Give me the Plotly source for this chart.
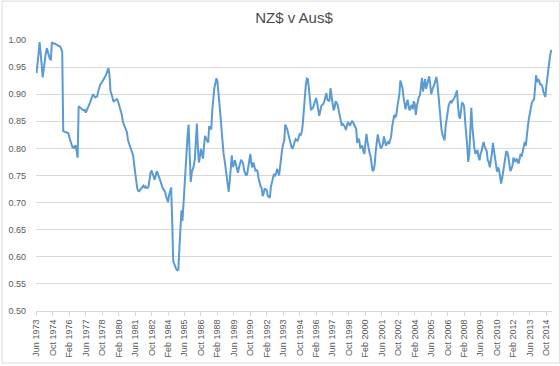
import plotly.graph_objects as go

# Monthly NZ$ per Aus$ readings, Jun 1973 onwards (one row per Jun-May year)
values = [
    0.939, 0.954, 0.975, 0.996, 0.980, 0.955, 0.931, 0.950, 0.968, 0.975, 0.985, 0.978,
    0.968, 0.965, 0.964, 0.996, 0.994, 0.994, 0.993, 0.992, 0.991, 0.991, 0.990, 0.988,
    0.984, 0.978, 0.832, 0.831, 0.830, 0.830, 0.829, 0.828, 0.820, 0.812, 0.808, 0.802,
    0.803, 0.800, 0.806, 0.795, 0.783, 0.878, 0.876, 0.873, 0.872, 0.871, 0.870, 0.871,
    0.866, 0.872, 0.878, 0.880, 0.884, 0.890, 0.895, 0.900, 0.897, 0.894, 0.895, 0.896,
    0.905, 0.915, 0.918, 0.920, 0.923, 0.926, 0.930, 0.933, 0.938, 0.942, 0.948, 0.935,
    0.905, 0.900, 0.892, 0.886, 0.888, 0.890, 0.891, 0.889, 0.882, 0.875, 0.869, 0.862,
    0.849, 0.845, 0.840, 0.835, 0.830, 0.815, 0.810, 0.803, 0.796, 0.792, 0.787, 0.770,
    0.753, 0.738, 0.726, 0.722, 0.721, 0.724, 0.727, 0.729, 0.731, 0.728, 0.730, 0.727,
    0.727, 0.730, 0.750, 0.756, 0.758, 0.754, 0.748, 0.742, 0.750, 0.758, 0.754, 0.748,
    0.744, 0.738, 0.733, 0.726, 0.723, 0.720, 0.712, 0.706, 0.701, 0.714, 0.720, 0.728,
    0.665, 0.592, 0.587, 0.581, 0.577, 0.575, 0.576, 0.615, 0.652, 0.686, 0.666, 0.700,
    0.735, 0.770, 0.800, 0.825, 0.844, 0.770, 0.738, 0.755, 0.760, 0.768, 0.780, 0.812,
    0.846, 0.800, 0.774, 0.785, 0.799, 0.790, 0.781, 0.805, 0.823, 0.818, 0.814, 0.811,
    0.841, 0.838, 0.835, 0.870, 0.899, 0.911, 0.920, 0.929, 0.924, 0.905, 0.887, 0.860,
    0.835, 0.808, 0.790, 0.778, 0.765, 0.750, 0.735, 0.720, 0.740, 0.759, 0.787, 0.766,
    0.770, 0.778, 0.770, 0.762, 0.755, 0.765, 0.772, 0.779, 0.776, 0.772, 0.759, 0.755,
    0.750, 0.753, 0.765, 0.778, 0.790, 0.772, 0.765, 0.774, 0.768, 0.759, 0.760, 0.758,
    0.745, 0.735, 0.730, 0.727, 0.712, 0.717, 0.726, 0.724, 0.723, 0.712, 0.710, 0.709,
    0.729, 0.738, 0.744, 0.753, 0.750, 0.753, 0.762, 0.758, 0.750, 0.768, 0.785, 0.799,
    0.808, 0.814, 0.844, 0.840, 0.835, 0.826, 0.818, 0.808, 0.803, 0.799, 0.805, 0.811,
    0.817, 0.815, 0.814, 0.820, 0.826, 0.825, 0.830, 0.844, 0.875, 0.895, 0.917, 0.929,
    0.928, 0.910, 0.885, 0.872, 0.873, 0.875, 0.881, 0.888, 0.893, 0.884, 0.875, 0.860,
    0.868, 0.878, 0.880, 0.882, 0.887, 0.895, 0.902, 0.890, 0.888, 0.887, 0.911, 0.900,
    0.887, 0.870, 0.875, 0.887, 0.884, 0.880, 0.870, 0.860, 0.850, 0.842, 0.845, 0.843,
    0.840, 0.834, 0.842, 0.849, 0.845, 0.842, 0.847, 0.850, 0.848, 0.845, 0.840, 0.836,
    0.810, 0.818, 0.815, 0.800, 0.803, 0.805, 0.795, 0.790, 0.810, 0.827, 0.812, 0.800,
    0.792, 0.785, 0.770, 0.758, 0.760, 0.770, 0.795, 0.812, 0.826, 0.815, 0.808, 0.800,
    0.803, 0.808, 0.822, 0.815, 0.805, 0.810, 0.812, 0.808, 0.815, 0.822, 0.840, 0.855,
    0.862, 0.858, 0.860, 0.876, 0.885, 0.900, 0.925, 0.920, 0.912, 0.895, 0.885, 0.872,
    0.882, 0.890, 0.878, 0.870, 0.876, 0.880, 0.872, 0.887, 0.882, 0.862, 0.878, 0.890,
    0.895, 0.898, 0.915, 0.930, 0.905, 0.915, 0.928, 0.910, 0.920, 0.925, 0.933, 0.918,
    0.900, 0.908, 0.912, 0.918, 0.925, 0.932, 0.920, 0.900, 0.880, 0.850, 0.835, 0.825,
    0.820, 0.815, 0.840, 0.855, 0.870, 0.880, 0.884, 0.888, 0.885, 0.888, 0.892, 0.895,
    0.900, 0.907, 0.880, 0.860, 0.855, 0.870, 0.885, 0.882, 0.878, 0.850, 0.830, 0.805,
    0.775, 0.790, 0.830, 0.875, 0.840, 0.815, 0.800, 0.790, 0.795, 0.797, 0.785, 0.778,
    0.790, 0.795, 0.805, 0.812, 0.803, 0.800, 0.795, 0.778, 0.775, 0.765, 0.775, 0.790,
    0.810, 0.795, 0.785, 0.770, 0.757, 0.765, 0.760, 0.748, 0.735, 0.745, 0.755, 0.770,
    0.782, 0.795, 0.793, 0.785, 0.765, 0.758, 0.762, 0.768, 0.783, 0.778, 0.775, 0.780,
    0.778, 0.772, 0.780, 0.790, 0.785, 0.795, 0.800, 0.812, 0.805, 0.830, 0.840, 0.855,
    0.868, 0.880, 0.885, 0.888, 0.890, 0.910, 0.935, 0.922, 0.928, 0.925, 0.918, 0.918,
    0.915, 0.905, 0.898, 0.895, 0.915, 0.935, 0.950, 0.962, 0.975, 0.982,
]

MONTHS = ["Jan", "Feb", "Mar", "Apr", "May", "Jun",
          "Jul", "Aug", "Sep", "Oct", "Nov", "Dec"]
START_YEAR, START_MONTH = 1973, 6
categories = []
for k in range(len(values)):
    m = START_MONTH - 1 + k
    categories.append(f"{MONTHS[m % 12]} {START_YEAR + m // 12}")

LABEL_STEP = 16
tick_labels = categories[::LABEL_STEP]
y_ticks = [0.50, 0.55, 0.60, 0.65, 0.70, 0.75, 0.80, 0.85, 0.90, 0.95, 1.00]

GREY_TEXT = "#595959"
GRID = "#d9d9d9"
FONT = "Liberation Sans, Arial, sans-serif"

fig = go.Figure(
    go.Scatter(
        x=categories,
        y=values,
        mode="lines",
        line=dict(color="#5B9BD5", width=2),
        hoverinfo="x+y",
    )
)

ML, MR, MT, MB = 34.5, 8.3, 39.7, 53
W, H = 560, 366
pw = W - ML - MR
ph = H - MT - MB

fig.update_layout(
    width=W,
    height=H,
    margin=dict(l=ML, r=MR, t=MT, b=MB, pad=0),
    paper_bgcolor="white",
    plot_bgcolor="white",
    showlegend=False,
    font=dict(family=FONT, color=GREY_TEXT, size=9),
    title=dict(
        text="NZ$ v Aus$",
        x=0.5,
        xref="paper",
        xanchor="center",
        y=1 - 18 / H,
        yref="container",
        yanchor="middle",
        font=dict(family=FONT, size=15, color="#4a4a4a"),
    ),
    xaxis=dict(
        type="category",
        tickmode="array",
        tickvals=tick_labels,
        ticktext=tick_labels,
        tickangle=-90,
        showgrid=False,
        showline=True,
        linecolor=GRID,
        linewidth=1,
        ticks="outside",
        ticklen=4,
        tickcolor=GRID,
        tickfont=dict(size=9, color=GREY_TEXT, family=FONT),
        range=[-0.5, len(values) - 0.5],
        fixedrange=True,
    ),
    yaxis=dict(
        range=[0.5, 1.0],
        tickvals=y_ticks,
        tickformat=".2f",
        showgrid=True,
        gridcolor=GRID,
        gridwidth=1,
        zeroline=False,
        showline=False,
        ticks="",
        ticklabelstandoff=9,
        tickfont=dict(size=9, color=GREY_TEXT, family=FONT),
        fixedrange=True,
    ),
    shapes=[
        dict(
            type="rect",
            xref="paper",
            yref="paper",
            x0=(0.5 - ML) / pw,
            x1=(W - 0.5 - ML) / pw,
            y0=-(MB - 0.5) / ph,
            y1=(ph + MT - 0.5) / ph,
            line=dict(color=GRID, width=1),
            fillcolor="rgba(0,0,0,0)",
            layer="below",
        )
    ],
)

fig.write_html(
    "out.html",
    config={"displayModeBar": False},
    post_script="document.body.style.margin='0';document.body.style.overflow='hidden';",
)
